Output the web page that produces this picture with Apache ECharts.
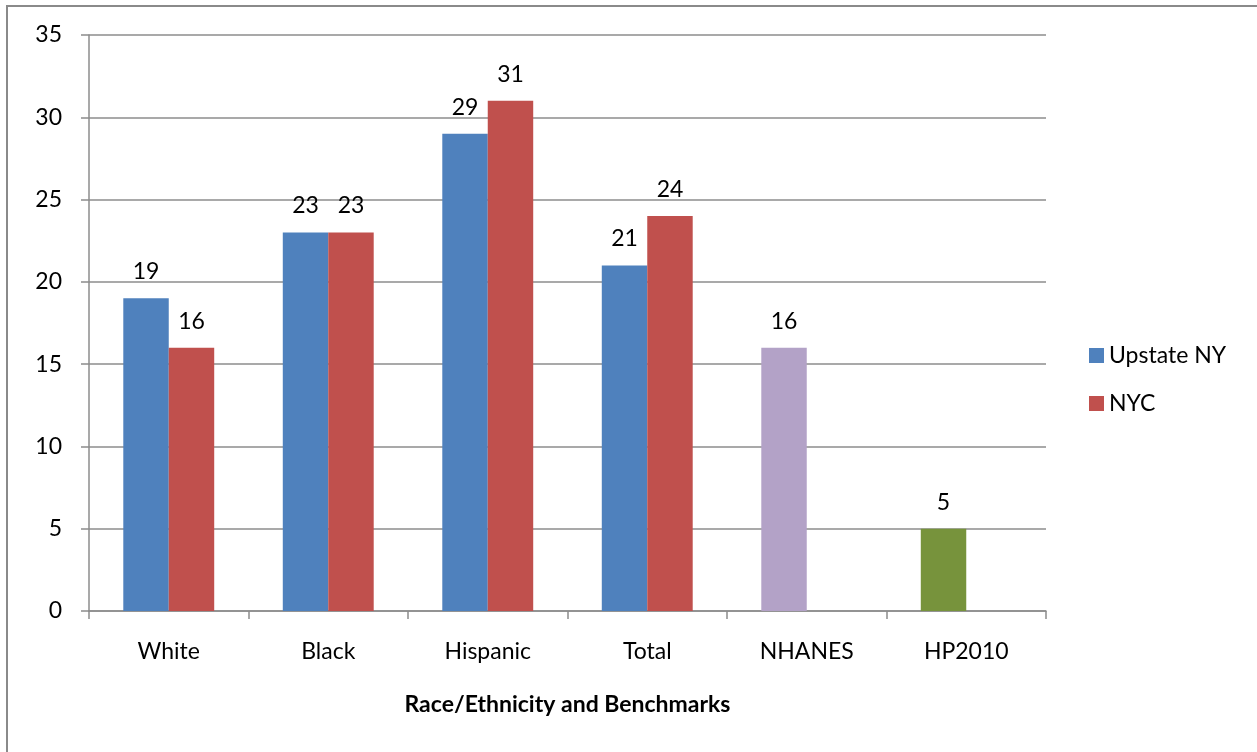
<!DOCTYPE html>
<html><head><meta charset="utf-8">
<script src="https://cdn.jsdelivr.net/npm/echarts@6/dist/echarts.min.js"></script>
<style>html,body{margin:0;padding:0;background:#fff}#c{width:1257px;height:752px}</style>
</head><body><div id="c"></div>
<script>
const categories = ['White','Black','Hispanic','Total','NHANES','HP2010'];
const upstateNY = [19,23,29,21,16,5];
const nyc = [16,23,31,24,null,null];
const yTicks = [0,5,10,15,20,25,30,35];
const benchmarkColors = {NHANES:'#B3A2C7', HP2010:'#77933C'};

const FONT = 'Lato';
const FS = 23;
const chart = echarts.init(document.getElementById('c'));
const upData = upstateNY.map((v,i)=>{
  const c = benchmarkColors[categories[i]];
  return c ? {value:v, itemStyle:{color:c}} : v;
});
chart.setOption({
  animation:false,
  textStyle:{fontFamily:FONT},
  graphic:[{type:'rect',shape:{x:7,y:6,width:1270,height:770},style:{fill:null,stroke:'#8a8a8a',lineWidth:2},silent:true}],
  grid:{left:89,right:211,top:35,bottom:141},
  legend:{orient:'vertical',left:1084,top:339,itemWidth:15,itemHeight:15,itemGap:25,
    icon:'rect',textStyle:{fontFamily:FONT,fontSize:FS,color:'#000'},
    data:['Upstate NY','NYC']},
  xAxis:{type:'category',data:categories,
    name:'Race/Ethnicity and Benchmarks',nameLocation:'middle',nameGap:82,
    nameTextStyle:{fontFamily:FONT,fontSize:FS,fontWeight:'bold',color:'#000'},
    axisLine:{lineStyle:{color:'#8c8c8c',width:1.5}},
    axisTick:{show:true,length:8,lineStyle:{color:'#8c8c8c',width:1.5}},
    axisLabel:{fontFamily:FONT,fontSize:FS,color:'#000',margin:29}},
  yAxis:{type:'value',min:yTicks[0],max:yTicks[yTicks.length-1],interval:5,
    axisLine:{show:true,lineStyle:{color:'#8c8c8c',width:1.5}},
    axisTick:{show:true,length:8,lineStyle:{color:'#8c8c8c',width:1.5}},
    splitLine:{lineStyle:{color:'#8c8c8c',width:1.5}},
    axisLabel:{fontFamily:FONT,fontSize:FS,color:'#000',margin:27}},
  series:[
    {name:'Upstate NY',type:'bar',data:upData,barGap:'0%',barCategoryGap:'43%',
      itemStyle:{color:'#4F81BD'},
      label:{show:true,position:'top',distance:15,fontFamily:FONT,fontSize:FS,color:'#000'}},
    {name:'NYC',type:'bar',data:nyc,
      itemStyle:{color:'#C0504D'},
      label:{show:true,position:'top',distance:15,fontFamily:FONT,fontSize:FS,color:'#000'}}
  ]
});
</script></body></html>
